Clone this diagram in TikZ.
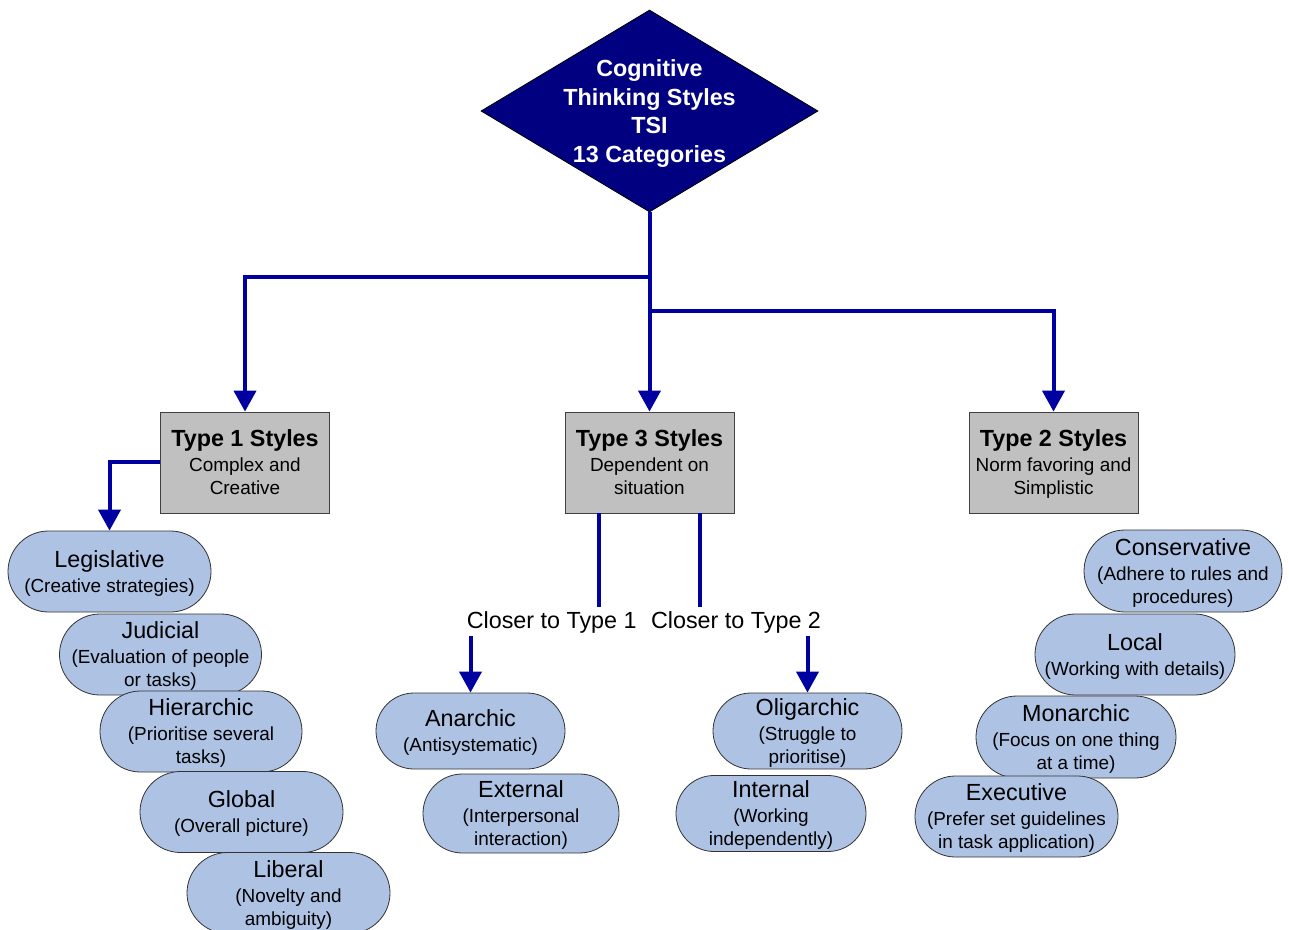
\documentclass[tikz,border=0pt]{standalone}
\usepackage{fontspec}
\setmainfont{Liberation Sans}
\usetikzlibrary{shapes.geometric,arrows.meta}

\definecolor{linkblue}{RGB}{0,0,160}
\definecolor{rootnavy}{RGB}{0,0,128}
\definecolor{boxgray}{RGB}{192,192,192}
\definecolor{pillblue}{RGB}{174,194,228}

\newcommand\headfont{\fontsize{17.5}{21}\selectfont}
\newcommand\notefont{\fontsize{14.2}{17.25}\selectfont}

\begin{document}
\begin{tikzpicture}[x=0.75pt,y=-0.75pt,
  conn/.style={draw=linkblue, line width=3pt},
  arrow/.style={conn, -{Triangle[width=16.5pt,length=15.75pt]}},
  stylebox/.style={draw=black!75, line width=0.6pt, fill=boxgray,
    minimum width=126.75pt, minimum height=75.75pt, align=center,
    inner sep=0pt, text depth=0pt, font=\notefont},
  pill/.style 2 args={rectangle, rounded corners={#2*0.375pt},
    draw=black!80, line width=0.6pt, fill=pillblue, align=center,
    inner sep=0pt, text depth=0pt, font=\notefont,
    minimum width={#1*0.75pt}, minimum height={#2*0.75pt}},
]
\useasboundingbox (0,0) rectangle (1289,930);

% root diamond and its caption
\node[diamond, draw=black, line width=0.6pt, fill=rootnavy, inner sep=0pt,
  minimum width=252.75pt, minimum height=151.5pt] (root) at (649.5,111) {};
\node[text=white, font=\bfseries\fontsize{17.5}{21.45}\selectfont, align=center,
  text depth=0pt] (roottext) at (649.5,111)
  {Cognitive\\Thinking Styles\\TSI\\13 Categories};

% the three style families
\node[stylebox] (t1) at (245,462.5)
  {{\bfseries\headfont Type 1 Styles}\\[1.5pt]Complex and\\Creative};
\node[stylebox] (t3) at (649.5,462.5)
  {{\bfseries\headfont Type 3 Styles}\\[1.5pt]Dependent on\\situation};
\node[stylebox] (t2) at (1053.5,462.5)
  {{\bfseries\headfont Type 2 Styles}\\[1.5pt]Norm favoring and\\Simplistic};

% Type 1 styles
\node[pill={203}{81}] (leg) at (109.5,571.5)
  {{\headfont Legislative}\\[1.5pt](Creative strategies)};
\node[pill={202}{81}] (jud) at (160.5,654.5)
  {{\headfont Judicial}\\[1.5pt](Evaluation of people\\or tasks)};
\node[pill={202}{81}] (hie) at (201,731.5)
  {{\headfont Hierarchic}\\[1.5pt](Prioritise several\\tasks)};
\node[pill={203}{81}] (glo) at (241.5,812)
  {{\headfont Global}\\[1.5pt](Overall picture)};
\node[pill={203}{81}] (lib) at (288.5,893)
  {{\headfont Liberal}\\[1.5pt](Novelty and\\ambiguity)};

% Type 3 styles
\node[font=\headfont, text depth=0pt] (c1) at (551.7,620) {Closer to Type 1};
\node[font=\headfont, text depth=0pt] (c2) at (736,620) {Closer to Type 2};
\node[pill={189}{76}] (ana) at (470.5,731)
  {{\headfont Anarchic}\\[1.5pt](Antisystematic)};
\node[pill={196}{79}] (ext) at (521,813.5)
  {{\headfont External}\\[1.5pt](Interpersonal\\interaction)};
\node[pill={189}{76}] (oli) at (807.5,731)
  {{\headfont Oligarchic}\\[1.5pt](Struggle to\\prioritise)};
\node[pill={190}{76}] (int) at (771,813.5)
  {{\headfont Internal}\\[1.5pt](Working\\independently)};

% Type 2 styles
\node[pill={198}{82}] (con) at (1183,571)
  {{\headfont Conservative}\\[1.5pt](Adhere to rules and\\procedures)};
\node[pill={200}{81}] (loc) at (1135,654.5)
  {{\headfont Local}\\[1.5pt](Working with details)};
\node[pill={200}{82}] (mon) at (1076,737)
  {{\headfont Monarchic}\\[1.5pt](Focus on one thing\\at a time)};
\node[pill={203}{81}] (exe) at (1016.5,816.5)
  {{\headfont Executive}\\[1.5pt](Prefer set guidelines\\in task application)};

% connectors
\coordinate (j1) at (649.5,277);
\coordinate (j2) at (649.5,311);
\coordinate (s1) at (599,607);
\coordinate (s2) at (700,607);
\coordinate (a1) at (470.5,636);
\coordinate (a2) at (807.5,636);

\draw[arrow] (root.south) -- (t3.north);
\draw[arrow] (j1) -| (t1.north);
\draw[arrow] (j2) -| (t2.north);
\draw[arrow] (t1.west) -| (leg.north);
\draw[conn] (t3.south -| s1) -- (s1);
\draw[conn] (t3.south -| s2) -- (s2);
\draw[arrow] (a1) -- (ana.north);
\draw[arrow] (a2) -- (oli.north);
\end{tikzpicture}
\end{document}
